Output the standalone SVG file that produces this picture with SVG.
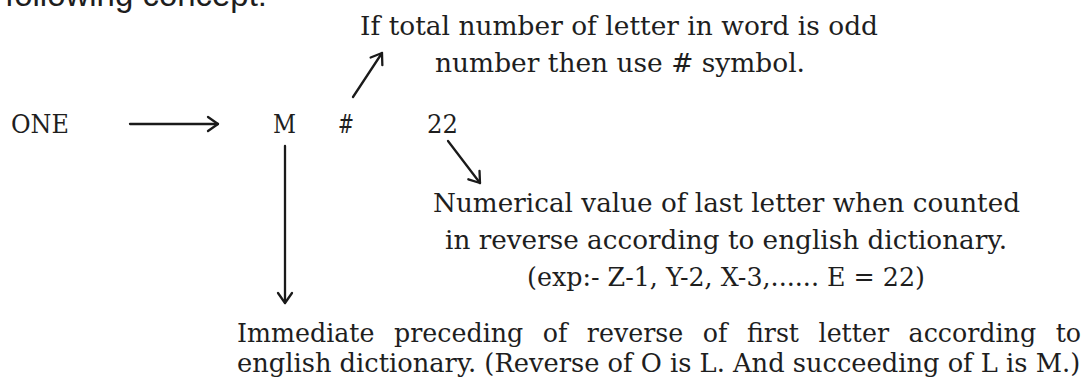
<svg xmlns="http://www.w3.org/2000/svg" width="1091" height="386" viewBox="0 0 1091 386">
  <defs>
    <marker id="arr" viewBox="-13 -9 16 18" markerWidth="16" markerHeight="18" refX="0" refY="0" orient="auto" markerUnits="userSpaceOnUse">
      <path d="M-10,-7 L0,0 L-10,7" fill="none" stroke="#1a1a1a" stroke-width="2.3" stroke-linecap="round" stroke-linejoin="round"/>
    </marker>
    <style>
      .t { font-family: "DejaVu Serif", "Liberation Serif", serif; font-size: 26.5px; fill: #1e1e1e; }
      .s { font-family: "Liberation Sans", Arial, sans-serif; font-size: 33px; fill: #1e1e1e; }
      .c { fill: none; stroke: #1a1a1a; stroke-width: 2.3; stroke-linecap: round; }
    </style>
  </defs>
  <rect width="1091" height="386" fill="#ffffff"/>

  <text class="s" x="5" y="6" textLength="262" lengthAdjust="spacingAndGlyphs">following concept:</text>

  <g id="node-one"><text class="t" x="11" y="133" textLength="58" lengthAdjust="spacingAndGlyphs">ONE</text></g>
  <g id="node-m"><text class="t" x="273" y="133" textLength="23" lengthAdjust="spacingAndGlyphs">M</text></g>
  <g id="node-hash"><text class="t" x="338" y="133" textLength="16" lengthAdjust="spacingAndGlyphs">#</text></g>
  <g id="node-22"><text class="t" x="427" y="133" textLength="31" lengthAdjust="spacingAndGlyphs">22</text></g>

  <g id="note-odd">
    <text class="t" x="360" y="35" textLength="518" lengthAdjust="spacingAndGlyphs">If total number of letter in word is odd</text>
    <text class="t" x="435" y="72" textLength="370" lengthAdjust="spacingAndGlyphs">number then use # symbol.</text>
  </g>

  <g id="note-value">
    <text class="t" x="433" y="212" textLength="587" lengthAdjust="spacingAndGlyphs">Numerical value of last letter when counted</text>
    <text class="t" x="445" y="249" textLength="562" lengthAdjust="spacingAndGlyphs">in reverse according to english dictionary.</text>
    <text class="t" x="527" y="286" textLength="398" lengthAdjust="spacingAndGlyphs">(exp:- Z-1, Y-2, X-3,...... E = 22)</text>
  </g>

  <g id="note-first" transform="translate(237 0) scale(0.85 1)">
    <text class="t" x="0" y="342" word-spacing="12" textLength="993" lengthAdjust="spacingAndGlyphs">Immediate preceding of reverse of first letter according to</text>
    <text class="t" x="0" y="372" textLength="992" lengthAdjust="spacingAndGlyphs">english dictionary. (Reverse of O is L. And succeeding of L is M.)</text>
  </g>

  <g id="connectors">
    <line class="c" x1="130" y1="124" x2="218" y2="124" marker-end="url(#arr)"/>
    <line class="c" x1="353" y1="97" x2="382" y2="53" marker-end="url(#arr)"/>
    <line class="c" x1="448" y1="141" x2="480" y2="183" marker-end="url(#arr)"/>
    <line class="c" x1="285" y1="146" x2="285" y2="303" marker-end="url(#arr)"/>
  </g>
</svg>
